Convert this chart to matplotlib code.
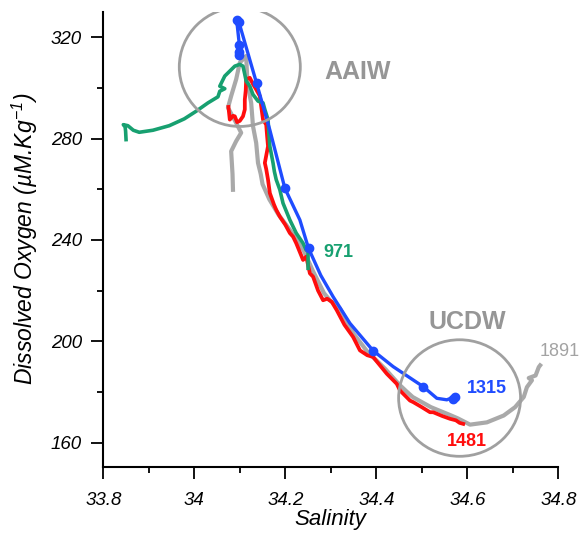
import matplotlib
matplotlib.use('Agg')
import matplotlib.pyplot as plt
from matplotlib.patches import Ellipse
from matplotlib.ticker import MultipleLocator, FuncFormatter

plt.rcParams['font.family'] = ['Liberation Sans', 'DejaVu Sans']
plt.rcParams['mathtext.fontset'] = 'custom'
plt.rcParams['mathtext.rm'] = 'Liberation Sans:italic'
plt.rcParams['mathtext.it'] = 'Liberation Sans:italic'

# station 1315 (blue, bottle line)
blue_s = [34.099, 34.099, 34.093, 34.098, 34.137, 34.166, 34.199, 34.232, 34.251,
          34.278, 34.305, 34.342, 34.393, 34.437, 34.503, 34.533, 34.555, 34.573]
blue_o = [313.0, 317.0, 327.0, 326.0, 301.8, 283.4, 260.4, 247.9, 236.7,
          226.0, 217.6, 207.1, 196.3, 190.0, 182.1, 177.5, 176.9, 178.2]
blue_pts_s = [34.093, 34.098, 34.099, 34.099, 34.099, 34.137, 34.199, 34.251,
              34.393, 34.503, 34.573, 34.568]
blue_pts_o = [327.0, 326.0, 317.0, 314.0, 313.0, 301.8, 260.4, 236.7,
              196.3, 182.1, 178.2, 177.3]

# station 1481 (red)
red_s = [34.075, 34.078, 34.085, 34.089, 34.094, 34.100, 34.107, 34.111, 34.111,
         34.113, 34.114, 34.122, 34.129, 34.136, 34.144, 34.147, 34.151, 34.158,
         34.160, 34.162, 34.155, 34.158, 34.162, 34.166, 34.175, 34.180, 34.188,
         34.200, 34.210, 34.217, 34.224, 34.239, 34.246, 34.254, 34.261, 34.272,
         34.283, 34.292, 34.302, 34.313, 34.330, 34.349, 34.364, 34.380, 34.393,
         34.408, 34.423, 34.445, 34.452, 34.474, 34.481, 34.500, 34.518, 34.525,
         34.545, 34.562, 34.575, 34.583, 34.591]
red_o = [292.5, 287.5, 289.0, 288.8, 286.5, 287.0, 288.8, 291.5, 295.4,
         299.0, 303.4, 304.0, 301.5, 299.4, 296.8, 292.8, 287.5, 285.5,
         281.0, 277.0, 270.4, 268.0, 263.8, 258.5, 254.0, 251.9, 249.2,
         246.0, 242.7, 241.3, 238.7, 232.1, 233.4, 226.8, 225.5, 220.0,
         216.2, 216.8, 215.6, 212.3, 206.5, 201.7, 196.4, 194.5, 193.8,
         190.5, 187.2, 183.2, 180.6, 176.6, 176.0, 174.0, 172.0, 172.0,
         170.5, 169.4, 168.8, 167.8, 167.4]

# station 971 (green)
green_s = [33.850, 33.849, 33.848, 33.844, 33.854, 33.866, 33.879, 33.909, 33.945,
           33.978, 34.004, 34.030, 34.052, 34.056, 34.067, 34.056, 34.067, 34.089,
           34.100, 34.107, 34.111, 34.114, 34.122, 34.129, 34.140, 34.151, 34.155,
           34.162, 34.164, 34.166, 34.173, 34.176, 34.180, 34.188, 34.195, 34.210,
           34.224, 34.239, 34.246, 34.250, 34.250]
green_o = [279.6, 283.0, 284.6, 285.5, 285.1, 283.3, 282.5, 283.3, 285.1,
           287.8, 290.8, 294.1, 296.5, 298.7, 299.7, 300.7, 304.7, 308.6,
           309.3, 308.6, 305.3, 302.7, 300.7, 297.4, 294.8, 294.1, 291.5,
           287.5, 282.0, 277.0, 270.4, 267.0, 263.8, 259.8, 254.5, 247.9,
           242.7, 238.7, 236.0, 237.5, 228.8]

# station 1891 (grey)
grey_s = [34.085, 34.084, 34.081, 34.092, 34.103, 34.092, 34.074, 34.081, 34.092,
          34.100, 34.114, 34.116, 34.118, 34.125, 34.129, 34.136, 34.140, 34.146,
          34.150, 34.165, 34.185, 34.210, 34.240, 34.260, 34.285, 34.298, 34.320,
          34.350, 34.380, 34.420, 34.450, 34.467, 34.480, 34.520, 34.562, 34.580,
          34.606, 34.643, 34.680, 34.705, 34.724, 34.731, 34.742, 34.735, 34.750,
          34.757, 34.760]
grey_o = [259.8, 266.0, 275.0, 279.0, 282.3, 286.2, 292.2, 296.8, 303.4,
          310.0, 312.6, 305.0, 300.7, 294.1, 284.9, 278.3, 270.4, 266.0,
          262.0, 256.0, 250.0, 244.0, 236.0, 228.0, 219.0, 216.2, 213.0,
          203.0, 196.0, 189.0, 183.0, 180.1, 178.0, 174.0, 170.9, 169.5,
          167.1, 168.0, 170.7, 174.0, 178.0, 181.9, 184.6, 185.5, 186.5,
          189.8, 190.5]

# water mass circles: centre salinity, centre oxygen, width, height
mass_names = ['AAIW', 'UCDW']
mass_s = [34.100, 34.583]
mass_o = [308.3, 177.6]
mass_w = [0.266, 0.268]
mass_h = [47.0, 46.0]
mass_label_s = [34.358, 34.599]
mass_label_o = [306.3, 207.8]

station_names = ['971', '1315', '1481', '1891']
station_label_s = [34.316, 34.643, 34.599, 34.804]
station_label_o = [234.9, 181.5, 160.4, 195.9]

c_blue = '#1f4cff'
c_red = '#ff0d0d'
c_green = '#17a070'
c_grey = '#a9a9a9'

fig = plt.figure(figsize=(5.79, 5.36), dpi=100)
ax = fig.add_axes([0.1784, 0.1293, 0.7859, 0.8489])

ax.plot(grey_s, grey_o, color=c_grey, lw=3.0, zorder=2)
ax.plot(red_s, red_o, color=c_red, lw=2.7, zorder=3)
ax.plot(green_s, green_o, color=c_green, lw=2.6, zorder=4)
ax.plot(blue_s, blue_o, color=c_blue, lw=2.4, zorder=5)
ax.plot(blue_pts_s, blue_pts_o, 'o', color=c_blue, ms=6, zorder=6)

for name, s, o, w, h, ls, lo in zip(mass_names, mass_s, mass_o, mass_w, mass_h,
                                    mass_label_s, mass_label_o):
    ax.add_patch(Ellipse((s, o), w, h, fill=False, ec='#a0a0a0', lw=2.0, zorder=7))
    ax.text(ls, lo, name, color='#969696', fontsize=18, fontweight='bold',
            ha='center', va='center')

label_colors = [c_green, c_blue, c_red, '#a3a3a3']
label_weights = ['bold', 'bold', 'bold', 'normal']
for name, s, o, c, wt in zip(station_names, station_label_s, station_label_o,
                             label_colors, label_weights):
    ax.text(s, o, name, color=c, fontsize=13, fontweight=wt,
            ha='center', va='center')

ax.set_xlim(33.8, 34.8)
ax.set_ylim(150.5, 330.1)
ax.xaxis.set_major_locator(MultipleLocator(0.2))
ax.xaxis.set_minor_locator(MultipleLocator(0.1))
ax.yaxis.set_major_locator(MultipleLocator(40))
ax.yaxis.set_minor_locator(MultipleLocator(20))
ax.xaxis.set_major_formatter(FuncFormatter(lambda v, p: f'{v:g}'))
ax.set_yticks([160, 200, 240, 280, 320])

for side in ['top', 'right']:
    ax.spines[side].set_visible(False)
for side in ['left', 'bottom']:
    ax.spines[side].set_linewidth(1.5)

ax.tick_params(which='major', direction='out', length=8.5, width=1.3,
               labelsize=13.5)
ax.tick_params(axis='x', which='major', pad=10)
ax.tick_params(axis='y', which='major', pad=7)
ax.tick_params(which='minor', direction='out', length=4.5, width=1.3)
for lab in ax.get_xticklabels() + ax.get_yticklabels():
    lab.set_fontstyle('italic')

ax.set_xlabel('Salinity', fontsize=16, fontstyle='italic', labelpad=0)
ax.set_ylabel('Dissolved Oxygen (µM.Kg$^{-1}$)', fontsize=16.5,
              fontstyle='italic', labelpad=8)

fig.savefig('out.png', dpi=100)
